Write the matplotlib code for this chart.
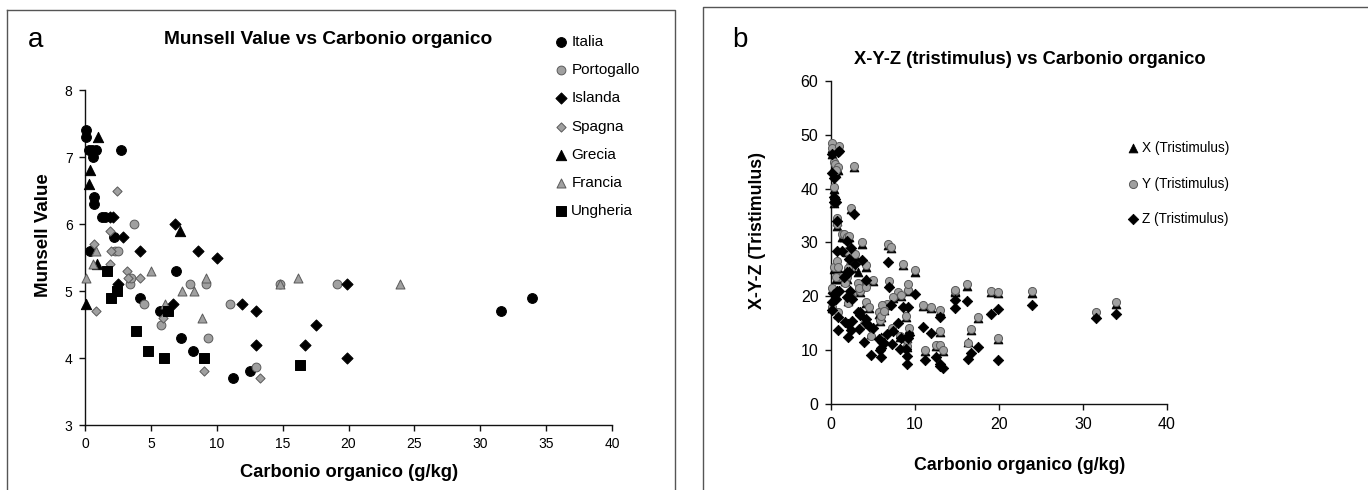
import matplotlib
matplotlib.use("Agg")
import matplotlib.pyplot as plt
from matplotlib.lines import Line2D

plt.rcParams['font.family'] = ['Liberation Sans', 'DejaVu Sans']

# ---- Panel a: Munsell Value vs organic carbon, by country ----
italia_c = [0.1, 0.1, 0.3, 0.5, 0.8, 0.6, 0.7, 0.7, 1.3, 1.5, 2.7, 0.4, 2.2, 6.9, 4.2, 7.3, 8.2, 11.2, 12.5, 31.6, 33.9, 5.7]
italia_v = [7.4, 7.3, 7.1, 7.1, 7.1, 7.0, 6.4, 6.3, 6.1, 6.1, 7.1, 5.6, 5.8, 5.3, 4.9, 4.3, 4.1, 3.7, 3.8, 4.7, 4.9, 4.7]

portogallo_c = [3.7, 2.3, 2.5, 3.4, 4.5, 5.8, 8.0, 9.2, 9.3, 11.0, 13.0, 14.8, 19.1, 3.5]
portogallo_v = [6.0, 5.6, 5.6, 5.1, 4.8, 4.5, 5.1, 5.1, 4.3, 4.8, 3.87, 5.1, 5.1, 5.2]

islanda_c = [1.9, 2.1, 2.9, 4.2, 6.8, 8.6, 10.0, 2.5, 6.7, 11.9, 13.0, 13.0, 16.7, 17.5, 19.9, 19.9]
islanda_v = [6.1, 6.1, 5.8, 5.6, 6.0, 5.6, 5.5, 5.1, 4.8, 4.8, 4.7, 4.2, 4.2, 4.5, 5.1, 4.0]

spagna_c = [2.4, 1.9, 0.7, 1.9, 3.2, 3.3, 4.2, 0.8, 5.9, 9.0, 13.3, 2.0]
spagna_v = [6.5, 5.9, 5.7, 5.4, 5.3, 5.2, 5.2, 4.7, 4.6, 3.8, 3.7, 5.6]

grecia_c = [1.0, 0.4, 0.3, 0.1, 0.9, 7.2]
grecia_v = [7.3, 6.8, 6.6, 4.8, 5.4, 5.9]

francia_c = [0.1, 0.6, 0.8, 5.0, 7.4, 8.3, 8.9, 9.2, 6.1, 14.8, 16.2, 23.9]
francia_v = [5.2, 5.4, 5.6, 5.3, 5.0, 5.0, 4.6, 5.2, 4.8, 5.1, 5.2, 5.1]

ungheria_c = [1.7, 2.0, 2.4, 3.9, 4.8, 6.0, 9.0, 6.3, 16.3]
ungheria_v = [5.3, 4.9, 5.0, 4.4, 4.1, 4.0, 4.0, 4.7, 3.9]

# ---- Panel b: X, Y, Z tristimulus for the same samples ----
carbon_b = italia_c + portogallo_c + islanda_c + spagna_c + grecia_c + francia_c + ungheria_c

x_tri = [47.5, 46.5, 44.0, 43.5, 43.5, 43.0, 34.0, 33.0, 31.0, 31.0, 44.0, 25.0, 27.5, 22.5, 18.8, 14.0, 12.5, 9.8, 10.8, 16.8, 18.6, 16.8,
         29.8, 25.5, 25.2, 20.8, 17.8, 15.4, 20.5, 21.0, 14.0, 18.2, 10.8, 20.8, 20.8, 21.8,
         30.8, 31.0, 27.5, 25.5, 29.5, 25.8, 24.6, 20.3, 18.3, 17.8, 17.3, 13.3, 13.8, 16.0, 20.6, 12.1,
         36.2, 28.3, 26.2, 23.3, 24.6, 21.3, 23.3, 16.8, 16.1, 10.6, 9.8, 25.0,
         47.8, 40.0, 37.3, 17.8, 23.3, 29.0,
         21.3, 23.3, 25.3, 22.8, 19.6, 20.0, 16.1, 22.0, 18.1, 21.0, 22.0, 20.7,
         22.8, 19.2, 20.2, 15.2, 13.0, 12.4, 12.3, 17.5, 11.6]

y_tri = [48.5, 47.5, 45.0, 44.5, 44.0, 43.5, 34.5, 33.5, 31.5, 31.5, 44.3, 25.5, 28.0, 22.8, 19.0, 14.2, 12.7, 10.0, 11.0, 17.0, 18.9, 17.0,
         30.0, 25.8, 25.5, 21.0, 18.0, 15.6, 20.8, 21.2, 14.2, 18.4, 11.0, 21.0, 21.0, 22.0,
         31.0, 31.2, 27.8, 25.8, 29.8, 26.0, 24.8, 20.5, 18.5, 18.0, 17.5, 13.5, 14.0, 16.2, 20.8, 12.3,
         36.5, 28.5, 26.5, 23.5, 22.5, 21.5, 21.7, 17.0, 16.3, 10.8, 10.0, 25.2,
         48.0, 40.3, 37.5, 18.0, 23.5, 29.2,
         21.5, 23.5, 25.5, 23.0, 19.8, 20.2, 16.3, 22.2, 18.3, 21.2, 22.2, 20.9,
         22.5, 18.8, 19.8, 14.8, 12.6, 12.0, 11.9, 17.2, 11.3]

z_tri = [46.5, 43.0, 42.0, 38.0, 46.8, 37.5, 34.0, 28.5, 28.5, 23.5, 35.3, 20.5, 24.5, 21.7, 15.0, 11.2, 10.3, 8.1, 8.7, 15.9, 16.8, 12.0,
         26.8, 21.0, 19.5, 17.0, 14.5, 10.0, 15.0, 18.1, 12.8, 14.3, 7.0, 17.8, 16.7, 16.5,
         30.3, 27.0, 26.0, 23.0, 26.4, 18.0, 20.5, 15.5, 13.0, 13.1, 16.2, 7.5, 9.4, 10.6, 17.6, 8.2,
         29.0, 24.5, 21.0, 19.8, 17.0, 14.0, 15.8, 13.8, 8.8, 7.4, 6.6, 14.8,
         47.0, 38.5, 37.5, 17.5, 21.0, 18.3,
         19.0, 19.5, 16.2, 14.2, 13.5, 12.3, 10.2, 12.2, 11.6, 19.4, 19.2, 18.3,
         15.3, 12.4, 13.8, 11.5, 9.1, 10.4, 9.0, 11.3, 8.3]

BLACK = '#000000'
GRAY = '#a0a0a0'
GRAY_EDGE = '#5a5a5a'

W, H = 1368, 490
fig = plt.figure(figsize=(W / 100, H / 100), dpi=100)


def px_axes(x0, y0, x1, y1):
    return fig.add_axes([x0 / W, 1 - y1 / H, (x1 - x0) / W, (y1 - y0) / H])


def style_axes(ax, fs):
    for s in ('top', 'right'):
        ax.spines[s].set_visible(False)
    for s in ('left', 'bottom'):
        ax.spines[s].set_linewidth(1.0)
        ax.spines[s].set_color('#111111')
    ax.tick_params(direction='out', length=4, width=1.0, labelsize=fs, color='#111111', pad=5)


# frames around each panel
fig.add_artist(Line2D([7 / W, 675 / W, 675 / W], [1 - 10 / H, 1 - 10 / H, 0], color='#555555', lw=1.0))
fig.add_artist(Line2D([7 / W, 7 / W], [1 - 10 / H, 0], color='#555555', lw=1.0))
fig.add_artist(Line2D([703 / W, 703 / W, 1367 / W], [0, 1 - 7 / H, 1 - 7 / H], color='#555555', lw=1.0))

# ---------------- panel a ----------------
ax1 = px_axes(85, 90, 612, 425)
style_axes(ax1, 10)
series_a = [
    ('Italia', italia_c, italia_v, 'o', BLACK, BLACK, 50),
    ('Portogallo', portogallo_c, portogallo_v, 'o', GRAY, GRAY_EDGE, 40),
    ('Islanda', islanda_c, islanda_v, 'D', BLACK, BLACK, 32),
    ('Spagna', spagna_c, spagna_v, 'D', GRAY, GRAY_EDGE, 22),
    ('Grecia', grecia_c, grecia_v, '^', BLACK, BLACK, 55),
    ('Francia', francia_c, francia_v, '^', GRAY, GRAY_EDGE, 42),
    ('Ungheria', ungheria_c, ungheria_v, 's', BLACK, BLACK, 50),
]
handles_a = []
for name, xs, ys, mk, fc, ec, sz in series_a:
    h = ax1.scatter(xs, ys, marker=mk, s=sz, c=fc, edgecolors=ec, linewidths=0.7, label=name,
                    zorder=3, clip_on=False)
    handles_a.append(h)
ax1.set_xlim(0, 40)
ax1.set_ylim(3, 8)
ax1.set_xticks(range(0, 41, 5))
ax1.set_yticks(range(3, 9))

fig.text(36 / W, 1 - 40 / H, 'a', fontsize=20, ha='center', va='center')
fig.text(328 / W, 1 - 40 / H, 'Munsell Value vs Carbonio organico', fontsize=13.8, fontweight='bold',
         ha='center', va='center')
fig.text(44 / W, 1 - 235 / H, 'Munsell Value', fontsize=13.5, fontweight='bold', rotation=90,
         ha='center', va='center')
fig.text(349 / W, 1 - 472 / H, 'Carbonio organico (g/kg)', fontsize=13.2, fontweight='bold',
         ha='center', va='center')
fig.legend(handles=handles_a, loc='upper left', bbox_to_anchor=(556 / W, 1 - 35 / H),
           frameon=False, fontsize=11, scatterpoints=1, handlelength=0.6, handletextpad=0.4,
           labelspacing=0.93, borderpad=0, borderaxespad=0)

# ---------------- panel b ----------------
ax2 = px_axes(831, 81, 1167, 404)
style_axes(ax2, 11.5)
hx = ax2.scatter(carbon_b, x_tri, marker='^', s=40, c=BLACK, edgecolors=BLACK, linewidths=0.6,
                 label='X (Tristimulus)', zorder=3, clip_on=False)
hy = ax2.scatter(carbon_b, y_tri, marker='o', s=34, c=GRAY, edgecolors=GRAY_EDGE, linewidths=0.7,
                 label='Y (Tristimulus)', zorder=4, clip_on=False)
hz = ax2.scatter(carbon_b, z_tri, marker='D', s=28, c=BLACK, edgecolors=BLACK, linewidths=0.6,
                 label='Z (Tristimulus)', zorder=5, clip_on=False)
ax2.set_xlim(0, 40)
ax2.set_ylim(0, 60)
ax2.set_xticks(range(0, 41, 10))
ax2.set_yticks(range(0, 61, 10))

fig.text(740 / W, 1 - 40 / H, 'b', fontsize=20, ha='center', va='center')
fig.text(1030 / W, 1 - 60 / H, 'X-Y-Z (tristimulus) vs Carbonio organico', fontsize=13.2, fontweight='bold',
         ha='center', va='center')
fig.text(757 / W, 1 - 230 / H, 'X-Y-Z (Tristimulus)', fontsize=12.8, fontweight='bold', rotation=90,
         ha='center', va='center')
fig.text(1020 / W, 1 - 465 / H, 'Carbonio organico (g/kg)', fontsize=12.8, fontweight='bold',
         ha='center', va='center')
fig.legend(handles=[hx, hy, hz], loc='upper left', bbox_to_anchor=(1129 / W, 1 - 141 / H),
           frameon=False, fontsize=9.8, scatterpoints=1, handlelength=0.6, handletextpad=0.35,
           labelspacing=1.58, borderpad=0, borderaxespad=0)

fig.savefig('out.png', dpi=100)
